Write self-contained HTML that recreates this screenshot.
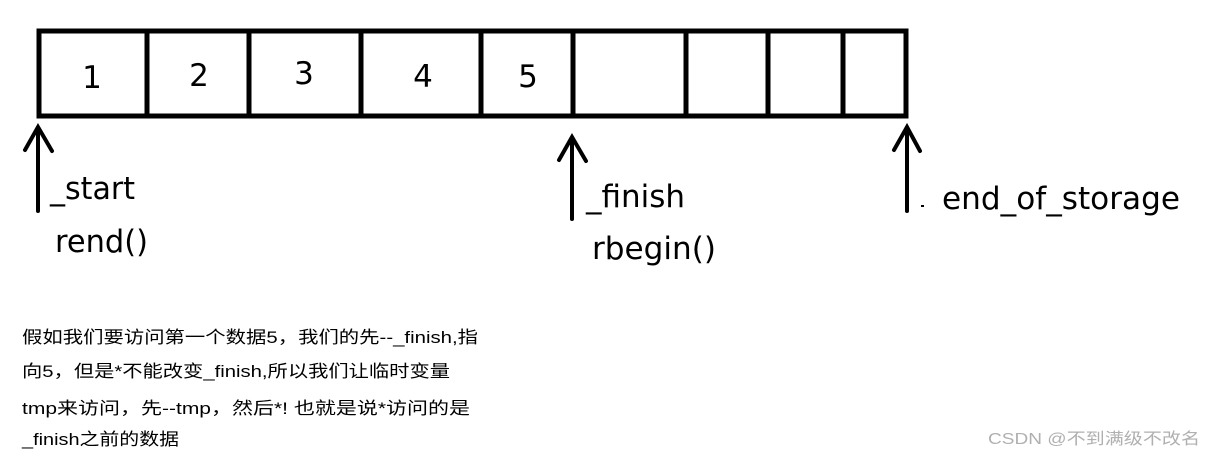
<!DOCTYPE html>
<html><head><meta charset="utf-8"><style>
html,body{margin:0;padding:0;background:#fff;}
svg{display:block}
.t{font-family:"DejaVu Sans","Liberation Sans",sans-serif;fill:#000}
.c{font-family:"Liberation Sans","Noto Sans CJK SC",sans-serif;font-size:17px;fill:#000}
</style></head><body>
<svg width="1212" height="458" viewBox="0 0 1212 458" xmlns="http://www.w3.org/2000/svg">
<rect width="1212" height="458" fill="#fff"/>
<g stroke="#000" stroke-width="5" fill="none">
<rect x="39" y="31" width="867" height="85"/>
<line x1="147" y1="31" x2="147" y2="116"/>
<line x1="249" y1="31" x2="249" y2="116"/>
<line x1="361" y1="31" x2="361" y2="116"/>
<line x1="481" y1="31" x2="481" y2="116"/>
<line x1="573" y1="31" x2="573" y2="116"/>
<line x1="686" y1="31" x2="686" y2="116"/>
<line x1="768" y1="31" x2="768" y2="116"/>
<line x1="843" y1="31" x2="843" y2="116"/>
</g>
<g stroke="#000" stroke-width="4" fill="none" stroke-linecap="round">
<line x1="38" y1="128" x2="38" y2="211"/>
<polyline points="25,150 38,127 52,151"/>
<line x1="572" y1="138" x2="572" y2="219"/>
<polyline points="559,160 572,137 586,161"/>
<line x1="907" y1="128" x2="907" y2="211"/>
<polyline points="894,150 907,127 920,151"/>
</g>
<g class="t" font-size="31" text-anchor="middle">
<text x="92" y="88">1</text>
<text x="199" y="86">2</text>
<text x="304" y="84">3</text>
<text x="423" y="87">4</text>
<text x="528" y="87">5</text>
</g>
<g class="t" font-size="31">
<text x="50" y="199" textLength="85" lengthAdjust="spacingAndGlyphs">_start</text>
<text x="55" y="252" textLength="93" lengthAdjust="spacingAndGlyphs">rend()</text>
<text x="586" y="207" textLength="99" lengthAdjust="spacingAndGlyphs">_finish</text>
<text x="592" y="259" textLength="124" lengthAdjust="spacingAndGlyphs">rbegin()</text>
<text x="942" y="209" textLength="238" lengthAdjust="spacingAndGlyphs">end_of_storage</text>
</g>
<rect x="921" y="205" width="3" height="2" fill="#000"/>
<g class="c">
<text x="22" y="343" textLength="456" lengthAdjust="spacingAndGlyphs">假如我们要访问第一个数据5，我们的先--_finish,指</text>
<text x="22" y="377" textLength="428" lengthAdjust="spacingAndGlyphs">向5，但是*不能改变_finish,所以我们让临时变量</text>
<text x="22" y="414" textLength="448" lengthAdjust="spacingAndGlyphs">tmp来访问，先--tmp，然后*! 也就是说*访问的是</text>
<text x="22" y="445" textLength="157" lengthAdjust="spacingAndGlyphs">_finish之前的数据</text>
</g>
<text x="988" y="444" font-family="Liberation Sans,Noto Sans CJK SC,sans-serif" font-size="16" fill="#b0b0b0" textLength="212" lengthAdjust="spacingAndGlyphs">CSDN @不到满级不改名</text>
</svg>
</body></html>
